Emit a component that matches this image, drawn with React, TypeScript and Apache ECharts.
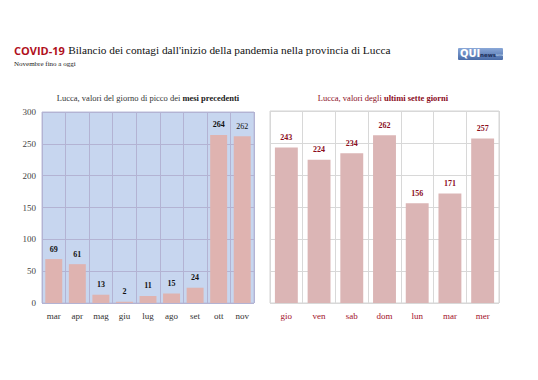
import React, { useEffect, useRef } from "react";
import * as echarts from "echarts";

const monthCats = ["mar", "apr", "mag", "giu", "lug", "ago", "set", "ott", "nov"];
const monthVals = [69, 61, 13, 2, 11, 15, 24, 264, 262];
const dayCats = ["gio", "ven", "sab", "dom", "lun", "mar", "mer"];
const dayVals = [243, 224, 234, 262, 156, 171, 257];
const yTicks = { min: 0, max: 300, interval: 50 };

const SERIF = "'Liberation Serif', 'DejaVu Serif', serif";

export default function App() {
  const ref = useRef<HTMLDivElement>(null);
  useEffect(() => {
    const chart = echarts.init(ref.current!, null, { renderer: "svg" });
    chart.setOption({
      animation: false,
      backgroundColor: "#ffffff",
      textStyle: { fontFamily: SERIF },
      graphic: [
        {
          type: "text",
          left: 14,
          top: 44,
          style: {
            text: "{a|COVID-19} {b|Bilancio dei contagi dall'inizio della pandemia nella provincia di Lucca}",
            rich: {
              a: { fontFamily: "'Open Sans', sans-serif", fontWeight: "bold", fontSize: 11, fill: "#b0101c" },
              b: { fontFamily: SERIF, fontSize: 11.3, fill: "#111" },
            },
          },
        },
        {
          type: "text",
          left: 14,
          top: 60,
          style: { text: "Novembre fino a oggi", fontFamily: SERIF, fontSize: 7, fill: "#222" },
        },
        {
          type: "group",
          left: 458,
          top: 48,
          children: [
            {
              type: "rect",
              shape: { x: 0, y: 0, width: 45, height: 12, r: 1 },
              style: {
                fill: new echarts.graphic.LinearGradient(0, 0, 0, 1, [
                  { offset: 0, color: "#8aa8d8" },
                  { offset: 1, color: "#4a6ca8" },
                ]),
              },
            },
            {
              type: "text",
              x: 2,
              y: 0.5,
              style: { text: "QUI", fontFamily: "'DejaVu Sans', sans-serif", fontWeight: "bold", fontSize: 10, fill: "#ffffff" },
            },
            {
              type: "text",
              x: 22,
              y: 3.5,
              style: { text: "news", fontFamily: "'DejaVu Sans', sans-serif", fontWeight: "bold", fontSize: 5.5, fill: "#1c2f5a" },
            },
            {
              type: "text",
              x: 37.5,
              y: 5,
              style: { text: "lucca", fontFamily: "'DejaVu Sans', sans-serif", fontSize: 3, fill: "#dde6f5" },
            },
          ],
        },
        {
          type: "text",
          x: 148,
          y: 93,
          style: {
            text: "{n|Lucca, valori del giorno di picco dei }{b|mesi precedenti}",
            align: "center",
            rich: {
              n: { fontFamily: SERIF, fontSize: 8.5, fill: "#333" },
              b: { fontFamily: SERIF, fontSize: 8.5, fontWeight: "bold", fill: "#222" },
            },
          },
        },
        {
          type: "text",
          x: 383,
          y: 93,
          style: {
            text: "{n|Lucca, valori degli }{b|ultimi sette giorni}",
            align: "center",
            rich: {
              n: { fontFamily: SERIF, fontSize: 8.5, fill: "#8b0d1c" },
              b: { fontFamily: SERIF, fontSize: 8.5, fontWeight: "bold", fill: "#8b0d1c" },
            },
          },
        },
      ],
      grid: [
        {
          left: 42,
          top: 112,
          width: 212,
          height: 191,
          show: true,
          backgroundColor: "#c7d6ef",
          borderColor: "#b8bdd8",
          borderWidth: 1,
        },
        {
          left: 270,
          top: 111,
          width: 229,
          height: 192,
          show: true,
          backgroundColor: "#ffffff",
          borderColor: "#d4d4d4",
          borderWidth: 1,
        },
      ],
      xAxis: [
        {
          type: "category",
          gridIndex: 0,
          data: monthCats,
          axisLine: { show: false },
          axisTick: { show: false },
          axisLabel: { fontFamily: SERIF, fontSize: 9, color: "#333", margin: 8 },
          splitLine: { show: true, lineStyle: { color: "#b3b3d3", width: 1 } },
        },
        {
          type: "category",
          gridIndex: 1,
          data: dayCats,
          axisLine: { show: false },
          axisTick: { show: false },
          axisLabel: { fontFamily: SERIF, fontSize: 9, color: "#a3102a", margin: 8 },
          splitLine: { show: true, lineStyle: { color: "#d8d8d8", width: 1 } },
        },
      ],
      yAxis: [
        {
          type: "value",
          gridIndex: 0,
          min: yTicks.min,
          max: yTicks.max,
          interval: yTicks.interval,
          axisLine: { show: false },
          axisTick: { show: false },
          axisLabel: { fontFamily: SERIF, fontSize: 9, color: "#444", margin: 6 },
          splitLine: { show: true, lineStyle: { color: "#b3b3d3", width: 1 } },
        },
        {
          type: "value",
          gridIndex: 1,
          min: yTicks.min,
          max: yTicks.max,
          interval: yTicks.interval,
          axisLine: { show: false },
          axisTick: { show: false },
          axisLabel: { show: false },
          splitLine: { show: true, lineStyle: { color: "#d8d8d8", width: 1 } },
        },
      ],
      series: [
        {
          type: "bar",
          xAxisIndex: 0,
          yAxisIndex: 0,
          barWidth: "72%",
          itemStyle: { color: "#dfb3b0" },
          data: monthVals.map((v, i) => ({
            value: v,
            label: i === monthVals.length - 1 ? { fontWeight: "normal" } : undefined,
          })),
          label: {
            show: true,
            position: "top",
            distance: 6,
            fontFamily: SERIF,
            fontSize: 8,
            fontWeight: "bold",
            color: "#111",
          },
        },
        {
          type: "bar",
          xAxisIndex: 1,
          yAxisIndex: 1,
          barWidth: "70%",
          itemStyle: { color: "#dbb5b5" },
          data: dayVals,
          label: {
            show: true,
            position: "top",
            distance: 6,
            fontFamily: SERIF,
            fontSize: 8,
            fontWeight: "bold",
            color: "#8b0d1c",
          },
        },
      ],
    });
    return () => chart.dispose();
  }, []);
  return <div ref={ref} style={{ width: 538, height: 380, position: "absolute", left: 0, top: 0 }} />;
}
